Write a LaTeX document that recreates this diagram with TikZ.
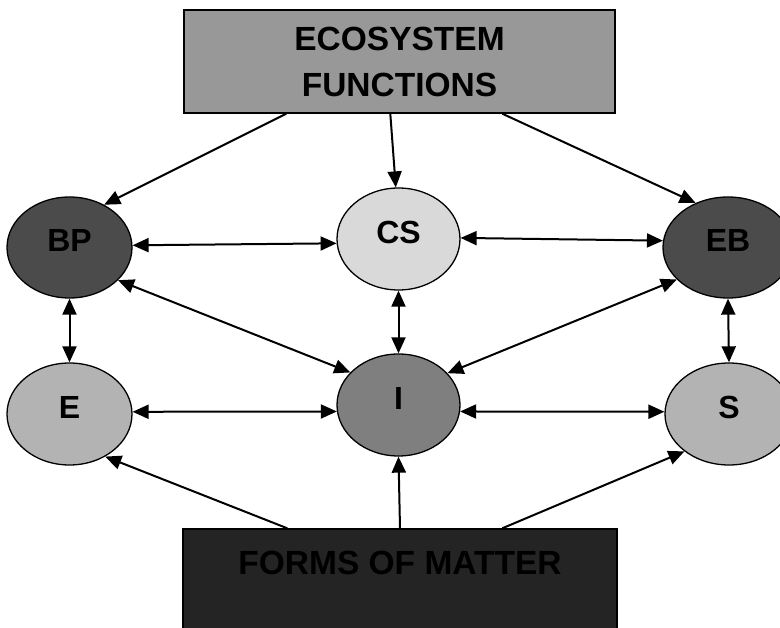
\documentclass[tikz,border=0pt]{standalone}
\usepackage{fontspec}
\setmainfont{Liberation Sans}
\usetikzlibrary{arrows.meta,shapes.geometric}

\definecolor{boxtop}{HTML}{989898}
\definecolor{boxbot}{HTML}{242424}
\definecolor{darkell}{HTML}{4B4B4B}
\definecolor{lightell}{HTML}{D9D9D9}
\definecolor{midell}{HTML}{7F7F7F}
\definecolor{paleell}{HTML}{B3B3B3}

\tikzset{
  bigbox/.style={draw=black, line width=1.4pt, rectangle, inner sep=0pt,
    font=\fontsize{33.5}{46}\selectfont\bfseries, align=center},
  oval/.style={draw=black, line width=1.3pt, ellipse, inner sep=0pt,
    minimum width=125pt, minimum height=101pt,
    font=\fontsize{32}{32}\selectfont\bfseries,
    text height=23pt, text depth=14pt},
  link/.style={line width=2pt, -{Triangle[length=16pt,width=14pt]}},
  twoway/.style={line width=2pt, {Triangle[length=16pt,width=14pt]}-{Triangle[length=16pt,width=14pt]}}
}

\begin{document}
\begin{tikzpicture}[x=1pt, y=-1pt]
  \clip (0,0) rectangle (780,628);
  \fill[white] (0,0) rectangle (780,628);

  % headline boxes
  \node[bigbox, fill=boxtop, minimum width=431pt, minimum height=103pt]
    (top) at (399.5,61.5) {ECOSYSTEM\\FUNCTIONS};
  \node[bigbox, fill=boxbot, minimum width=434pt, minimum height=102pt,
        text height=24pt, text depth=35pt]
    (bot) at (400,580) {FORMS OF MATTER};

  % the six components
  \node[oval, fill=darkell] (BP) at (69.5,247.5) {BP};
  \node[oval, fill=lightell, minimum width=123pt, minimum height=102pt] (CS) at (398.5,239) {CS};
  \node[oval, fill=darkell, minimum width=130pt] (EB) at (728,247.5) {EB};
  \node[oval, fill=paleell, minimum height=102pt] (E) at (69.5,414) {E};
  \node[oval, fill=midell, minimum width=123pt, minimum height=102pt] (I) at (398.5,405) {I};
  \node[oval, fill=paleell, minimum width=128pt, minimum height=102pt] (S) at (729,414) {S};

  % functions feed the upper row
  \draw[link] ([xshift=103pt]top.south west) -- (BP.51);
  \draw[link] ([xshift=207pt]top.south west) -- (CS.93);
  \draw[link] ([xshift=319pt]top.south west) -- (EB.126);

  % exchanges between components
  \draw[twoway] (BP.2) -- (CS.184);
  \draw[twoway] (CS.1) -- (EB.174);
  \draw[twoway] (BP.-34) -- (I.146);
  \draw[twoway] (EB.212) -- (I.33);
  \draw[twoway] (CS.south) -- (I.north);
  \draw[twoway] (BP.south) -- (E.north);
  \draw[twoway] (EB.south) -- (S.north);
  \draw[twoway] (E.2) -- (I.186);
  \draw[twoway] (I.354) -- (S.178);

  % matter feeds the lower row
  \draw[link] ([xshift=105pt]bot.north west) -- (E.310);
  \draw[link] (bot.north) -- (I.south);
  \draw[link] ([xshift=320pt]bot.north west) -- (S.220);
\end{tikzpicture}
\end{document}
